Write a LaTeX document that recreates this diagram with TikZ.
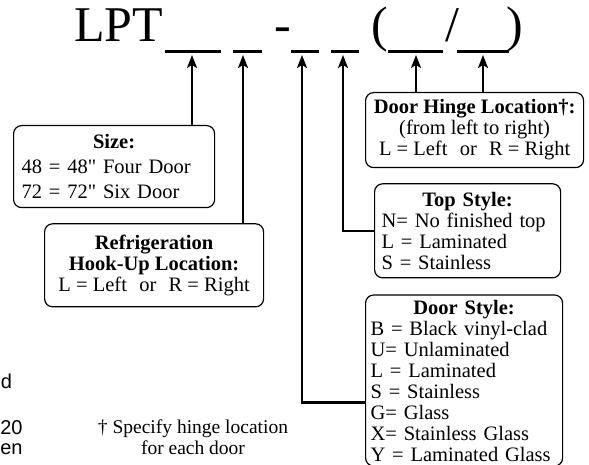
\documentclass[tikz,border=0pt]{standalone}
\usepackage{fontspec}
\setmainfont{Liberation Serif}
\newfontfamily\arialfont{Liberation Sans}
\usetikzlibrary{arrows.meta,positioning}
\setlength{\parindent}{0pt}

\begin{document}
\begin{tikzpicture}[x=1pt, y=1pt, >={Stealth[length=13pt,width=10pt,inset=3pt]}, semithick]

    \tikzstyle{infobox} = [rectangle, rounded corners=8pt, draw=black, line width=1.2pt, inner xsep=8pt, inner ysep=0pt, font=\fontsize{20.5}{21}\selectfont]
    \tikzstyle{blank} = [line width=3pt]
    \tikzstyle{feed} = [->, line width=2.2pt]
    \tikzstyle{code} = [inner sep=0pt, anchor=base, font=\fontsize{50}{50}\selectfont]
    \tikzstyle{cutoff} = [inner sep=0pt, anchor=base west, font=\arialfont\fontsize{20}{20}\selectfont]

    \clip (0,0) rectangle (589,-465);

    % model number
    \node (lpt)    [code, anchor=base west] at (74,-42)  {LPT};
    \node (hyph)   [code] at (283,-42) {-};
    \node (lparen) [code] at (380,-42) {(};
    \node (slash)  [code] at (452,-42) {/};
    \node (rparen) [code] at (515,-42) {)};

    \foreach \a/\b in {165/221, 233/262, 291/319, 331/359, 388/443, 457/509}
        \draw[blank] (\a,-52) -- (\b,-52);

    \coordinate (t1) at (192,-55);
    \coordinate (t2) at (243,-55);
    \coordinate (t3) at (302,-55);
    \coordinate (t4) at (343,-55);
    \coordinate (t5) at (416,-55);
    \coordinate (t6) at (483,-55);

    % option boxes
    \node (size)   [infobox, anchor=north west, text width=185pt, minimum height=82pt, font=\fontsize{20.5}{25}\selectfont] at (13,-125)
        {{\centering\textbf{Size:}\par}\raggedright 48 = 48\textquotedbl{} Four Door\par 72 = 72\textquotedbl{} Six Door};

    \node (refrig) [infobox, below=15pt of size.south west, anchor=north west, xshift=31pt, minimum width=219pt, minimum height=83pt, align=center]
        {\textbf{Refrigeration}\\\textbf{Hook-Up Location:}\\L = Left\hspace{0.6em}or\hspace{0.6em}R = Right};

    \node (hinge)  [infobox, anchor=north west, minimum width=218pt, minimum height=75pt, inner xsep=2pt, align=center] at (365,-92)
        {\textbf{Door Hinge Location\dag:}\\(from left to right)\\L = Left\hspace{0.6em}or\hspace{0.6em}R = Right};

    \node (top)    [infobox, below=15pt of hinge.south west, anchor=north west, xshift=9pt, text width=172pt, inner xsep=7pt, minimum height=94pt]
        {{\centering\textbf{Top Style:}\par}\raggedright N= No finished top\par L = Laminated\par S = Stainless};

    \node (door)   [infobox, below=16pt of top.south west, anchor=north west, xshift=-9pt, text width=187pt, inner xsep=5pt, minimum height=171pt]
        {{\centering\textbf{Door Style:}\par}\raggedright B = Black vinyl-clad\par U= Unlaminated\par L = Laminated\par S = Stainless\par G= Glass\par X= Stainless Glass\par Y = Laminated Glass};

    \node (note)   [align=center, font=\fontsize{19.5}{20.5}\selectfont] at (193,-437) {\dag\ Specify hinge location\\for each door};

    % text cut off at the left edge
    \node (cutd)  [cutoff] at (0.5,-388) {d};
    \node (cut20) [cutoff] at (0,-434) {20};
    \node (cuten) [cutoff] at (0,-454) {en};

    \draw[feed] (size.north -| t1) -- (t1);
    \draw[feed] (refrig.north -| t2) -- (t2);
    \draw[feed] ([yshift=-108pt]door.north west) -| (t3);
    \draw[feed] (top.west) -| (t4);
    \draw[feed] (hinge.north -| t5) -- (t5);
    \draw[feed] (hinge.north -| t6) -- (t6);
\end{tikzpicture}
\end{document}
